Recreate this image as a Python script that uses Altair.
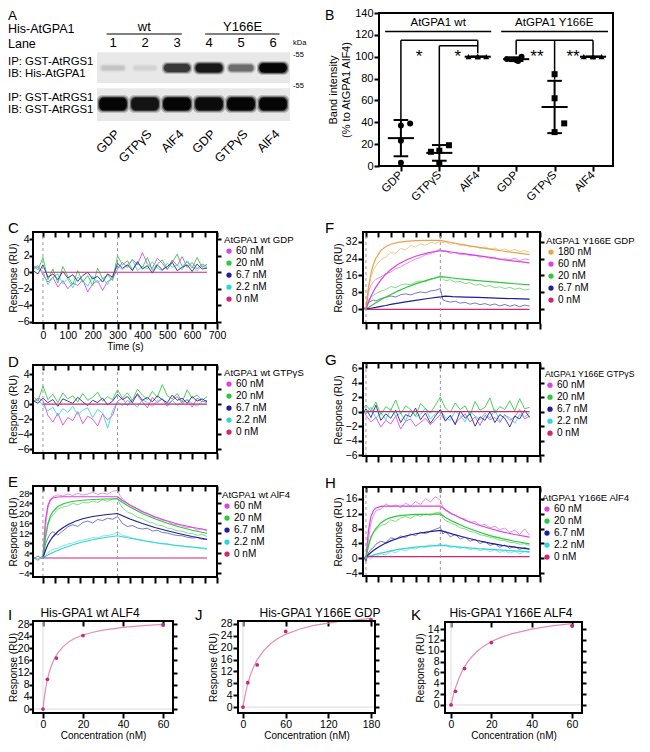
import altair as alt
import pandas as pd

W, H = 634, 736
M = 8
FONT = "Liberation Sans"

# ======================= DATA =======================
# ---- Panel A (relative band intensities read from the blot)
A_LANES = [1, 2, 3, 4, 5, 6]
A_LANE_NAMES = ["1", "2", "3", "4", "5", "6"]
A_TREAT = ["GDP", "GTPγS", "AlF4", "GDP", "GTPγS", "AlF4"]
A_HIS_BAND = [0.12, 0.06, 0.75, 0.92, 0.50, 1.00]
A_GST_BAND = [1.00, 0.95, 1.00, 0.98, 1.00, 1.00]

# ---- Panel B
B_CATS = ["GDP", "GTPγS", "AlF4", "GDP", "GTPγS", "AlF4"]
B_MARKER = ["circle", "square", "triangle-up", "circle", "square", "triangle-up"]
B_GROUP = [0, 0, 0, 0, 1, 1, 1, 1, 2, 2, 2, 2, 3, 3, 3, 3, 4, 4, 4, 4, 5, 5, 5, 5]
B_VALUE = [37, 39, 23, 3, 13, 14, 19, 2, 100, 100, 100, 100,
           98, 97, 100, 96, 84, 62, 31, 39, 100, 100, 100, 100]
B_GROUP_LABELS = ["AtGPA1 wt", "AtGPA1 Y166E"]
B_STARS = ["*", "*", "**", "**"]

# ---- SPR sensorgrams
CONC = ["180 nM", "60 nM", "20 nM", "6.7 nM", "2.2 nM", "0 nM"]
INJECT_T = [0, 300]
T_ZERO = [0, 660]

T_NOISE = [-40, -20, 0, 20, 40, 60, 80, 100, 120, 140, 160, 180, 200, 220, 240, 260, 280, 300,
           320, 340, 360, 380, 400, 420, 440, 460, 480, 500, 520, 540, 560, 580, 600, 620, 640, 660]
T_NOISE_F = [-10, 0, 20, 40, 60, 80, 100, 120, 140, 160, 180, 200, 220, 240, 260, 280, 300,
             320, 340, 360, 380, 400, 420, 440, 460, 480, 500, 520, 540, 560, 580, 600, 620, 640, 660]
T_KIN = [-40, -20, -5, 0, 10, 20, 30, 40, 60, 80, 100, 120, 140, 160, 180, 200, 220, 240, 260, 280, 300,
         310, 320, 340, 360, 380, 400, 420, 440, 460, 480, 500, 520, 540, 560, 580, 600, 620, 640, 660]
T_KIN_F = [-10, -5, 0, 10, 20, 30, 40, 60, 80, 100, 120, 140, 160, 180, 200, 220, 240, 260, 280, 300,
           310, 320, 340, 360, 380, 400, 420, 440, 460, 480, 500, 520, 540, 560, 580, 600, 620, 640, 660]
T_FIT = [0, 10, 20, 30, 40, 60, 80, 100, 130, 160, 200, 250, 300, 320, 350, 400, 450, 500, 550, 600, 660]

# C: AtGPA1 wt GDP
C_60 = [0.5, 0.8, -0.3, -1.2, -0.6, -1.8, -1.0, -2.0, -1.3, -1.6, -0.9, -2.4, -1.4, -1.0, -2.2, -1.1, -0.8, 0.4,
        1.2, 0.6, 1.6, 0.9, 2.4, 1.0, 0.5, 1.7, 1.1, 0.3, 1.5, 0.8, 1.9, 0.6, 1.2, 0.4, 1.0, 0.7]
C_20 = [0.9, 0.3, 1.8, -0.9, 0.4, -1.3, 0.7, -0.5, -1.5, 0.2, -1.2, -0.4, -1.6, 0.5, -0.8, -0.3, -1.0, 2.0,
        0.9, 1.4, 0.3, 1.1, 0.6, 1.8, 0.2, 1.0, 1.5, 0.4, 1.2, 2.2, 0.7, 1.3, 0.5, 1.8, 0.6, 1.0]
C_67 = [0.2, -0.2, 0.9, -0.6, -0.2, -0.9, 0.1, -0.7, -0.3, -1.1, -0.4, 0.0, -0.8, -0.5, -1.2, -0.2, -0.6, 1.1,
        0.5, 0.9, 0.2, 1.3, 0.4, 0.8, -0.1, 0.9, 0.3, 0.7, 1.2, 0.2, 0.6, 0.9, 0.1, 1.0, 0.4, 0.5]
C_22 = [0.4, 0.6, 0.1, -1.5, -0.6, -0.2, -1.4, -0.8, -1.9, -0.6, -1.0, -1.7, -0.5, -1.3, -0.7, -1.5, -0.4, 0.8,
        0.3, 0.9, 1.5, 0.2, 0.7, 0.4, 1.3, 0.5, 0.2, 1.1, 0.6, 0.9, 0.3, 1.4, 0.7, 0.2, 0.8, 0.5]
C_0 = [0.0, 0.0]

# D: AtGPA1 wt GTPgS
D_60 = [0.3, 0.8, 0.5, -1.5, -2.4, -1.2, -2.8, -1.8, -2.2, -1.0, -2.6, -1.6, -2.0, -2.9, -1.3, -2.1, -1.5, 0.4,
        0.8, -0.2, 0.6, 1.2, 0.3, -0.5, 0.9, 0.2, 0.7, -0.3, 0.5, 1.0, 0.1, 0.6, -0.4, 0.8, 0.3, 0.5]
D_20 = [1.0, 0.4, 2.4, 0.6, 1.3, 0.2, 1.5, 0.7, 1.1, 0.3, 1.4, 0.5, 0.9, 1.6, 0.4, 1.0, 0.6, 1.9,
        0.8, 1.5, 0.5, 2.0, 1.2, 0.6, 1.7, 0.9, 2.6, 1.1, 0.7, 1.4, 0.3, 1.9, 0.8, 1.2, 0.5, 1.0]
D_67 = [0.5, 0.1, 0.8, 0.2, 0.6, -0.3, 0.7, 0.4, 0.1, 0.9, 0.3, -0.2, 0.5, 0.2, 0.8, -0.1, 0.4, 1.3,
        0.6, 1.0, 0.2, 1.4, 0.5, 0.9, 0.3, 1.1, 0.6, 0.2, 1.2, 0.5, 0.8, 0.1, 1.0, 0.4, 0.7, 0.3]
D_22 = [0.2, 0.6, -0.2, -0.9, -0.4, -1.6, -0.6, -1.1, -0.3, -1.4, -0.8, -0.5, -1.8, -0.7, -1.2, -3.2, -0.9, 0.3,
        -0.2, 0.5, 0.1, -0.4, 0.6, 0.2, -0.3, 0.4, 0.7, 0.0, 0.5, -0.2, 0.3, 0.6, 0.1, -0.3, 0.4, 0.2]
D_0 = [0.0, 0.0]

# E: AtGPA1 wt AlF4
E_60 = [2.5, 1.0, 2.2, 2.0, 14.0, 22.0, 25.5, 26.5, 27.3, 26.8, 27.6, 27.0, 27.9, 27.2, 27.6, 28.3, 27.4, 28.0,
        27.5, 28.7, 29.0, 27.0, 25.6, 23.8, 22.5, 21.6, 20.4, 19.8, 18.6, 18.0, 17.1, 16.8, 15.6, 15.3, 14.8,
        14.1, 14.3, 13.2, 13.6, 12.8]
E_20 = [2.3, 1.5, 2.6, 2.0, 9.5, 15.0, 18.0, 19.2, 21.5, 22.4, 22.8, 23.9, 23.2, 24.3, 24.0, 24.8, 24.2, 25.3,
        24.7, 25.6, 25.9, 23.5, 22.0, 20.4, 19.6, 18.3, 17.7, 16.6, 16.1, 15.2, 14.9, 14.0, 13.6, 12.9, 12.7,
        12.0, 11.8, 11.1, 11.4, 10.6]
E_67 = [1.5, 2.8, 1.8, 2.0, 7.5, 10.0, 11.8, 12.5, 11.2, 12.8, 14.5, 15.3, 14.6, 16.2, 16.8, 16.0, 17.4, 17.0,
        17.9, 17.5, 18.6, 17.2, 15.8, 14.6, 15.0, 14.0, 13.6, 13.9, 12.8, 13.1, 12.2, 12.0, 11.4, 11.0, 10.9,
        10.3, 10.0, 10.2, 9.5, 9.4]
E_22 = [2.0, 1.2, 2.5, 2.0, 3.0, 4.2, 4.8, 5.5, 6.0, 6.9, 7.6, 8.0, 8.8, 9.1, 9.6, 10.2, 10.0, 10.8, 11.0, 11.4,
        12.5, 11.8, 11.0, 10.6, 10.0, 9.5, 9.2, 8.6, 8.4, 7.9, 7.6, 7.8, 7.1, 6.8, 6.9, 6.3, 6.5, 6.0, 5.7, 5.5]
E_0 = [2.0, 2.0]
E_60F = [2.0, 17.0, 23.0, 25.2, 26.0, 26.4, 26.5, 26.5, 26.5, 26.5, 26.5, 26.5, 26.5, 25.0, 23.2, 20.6, 18.5,
         16.8, 15.4, 14.3, 13.2]
E_20F = [2.0, 10.5, 15.8, 18.8, 20.6, 22.6, 23.6, 24.2, 24.8, 25.1, 25.4, 25.6, 25.7, 24.2, 22.4, 19.8, 17.7,
         15.9, 14.4, 13.1, 11.9]
E_67F = [2.0, 5.0, 7.4, 9.1, 10.5, 12.6, 14.1, 15.3, 16.7, 17.7, 18.6, 19.3, 19.8, 18.9, 17.6, 15.8, 14.2,
         12.9, 11.7, 10.6, 9.5]
E_22F = [2.0, 2.6, 3.2, 3.7, 4.2, 5.1, 5.9, 6.6, 7.6, 8.4, 9.3, 10.2, 10.9, 10.5, 9.9, 9.0, 8.2, 7.5, 6.9,
         6.4, 5.8]

# F: AtGPA1 Y166E GDP
F_180 = [0.8, 0.2, 0.5, 10.0, 15.0, 18.5, 20.5, 23.5, 24.8, 27.0, 26.5, 28.8, 28.0, 30.2, 29.5, 31.0, 30.3,
         31.6, 31.2, 32.4, 31.5, 32.0, 30.8, 31.3, 30.2, 30.6, 29.5, 29.9, 28.8, 29.6, 28.5, 29.0, 28.0, 28.6,
         27.6, 28.4, 27.3, 27.8, 27.0]
F_60 = [0.5, 1.0, 0.3, 8.0, 11.5, 13.0, 14.2, 15.3, 16.8, 17.6, 19.2, 20.1, 21.5, 22.6, 23.8, 24.6, 25.8, 26.3,
        27.4, 28.6, 27.2, 27.6, 26.5, 26.9, 25.8, 26.2, 25.3, 25.7, 24.6, 25.0, 24.1, 24.5, 23.6, 24.0, 23.4,
        24.2, 23.0, 23.8, 23.3]
F_20 = [0.3, -0.3, 0.4, 4.5, 5.8, 6.5, 7.4, 8.6, 9.3, 10.8, 10.2, 11.5, 12.0, 11.6, 12.9, 13.4, 13.0, 14.2,
        14.8, 16.0, 14.6, 13.5, 14.0, 12.8, 13.2, 12.1, 12.6, 11.4, 11.9, 10.8, 11.3, 10.2, 10.7, 9.8, 10.4,
        9.5, 10.0, 9.1, 9.6]
F_67 = [0.8, 0.2, 0.4, 3.2, 3.8, 4.4, 3.9, 5.1, 5.6, 6.3, 5.8, 6.9, 7.3, 6.8, 7.6, 8.2, 7.8, 8.7, 9.0, 9.8,
        4.5, 4.0, 3.4, 3.8, 2.9, 3.3, 2.4, 3.0, 2.2, 2.7, 1.9, 2.5, 1.6, 2.3, 1.4, 2.1, 1.2, 2.0, 1.5]
F_0 = [0.0, 0.0]
F_180F = [0.0, 10.5, 17.0, 21.2, 24.2, 27.8, 29.7, 30.8, 31.7, 32.2, 32.5, 32.6, 32.6, 32.2, 31.5, 30.4, 29.4,
          28.5, 27.6, 26.8, 25.9]
F_60F = [0.0, 3.2, 6.0, 8.4, 10.5, 13.9, 16.6, 18.8, 21.3, 23.2, 25.1, 26.7, 27.8, 27.5, 27.0, 26.2, 25.4,
         24.6, 23.5, 22.8, 22.0]
F_20F = [0.0, 0.8, 1.6, 2.4, 3.1, 4.5, 5.8, 7.0, 8.7, 10.2, 12.0, 13.9, 15.5, 15.2, 14.8, 14.2, 13.6, 13.1,
         12.6, 12.1, 11.6]
F_67F = [0.0, 0.3, 0.5, 0.7, 0.9, 1.4, 1.8, 2.3, 2.9, 3.5, 4.2, 5.1, 5.9, 6.2, 6.0, 5.8, 5.6, 5.4, 5.2, 5.0, 4.8]

# G: AtGPA1 Y166E GTPgS
G_60 = [0.3, -0.5, -1.4, -0.8, -2.1, -1.2, -1.7, -0.6, -2.4, -1.3, -1.0, -2.0, -1.5, -0.9, -1.8, -1.1, -0.4,
        -1.2, -0.6, -1.6, -0.9, -0.3, -1.4, -0.7, -1.9, -0.5, -1.1, -0.8, -1.5, -0.4, -1.2, -0.7, 0.3, -1.0, -0.6]
G_20 = [0.5, 0.9, 0.1, 1.3, -0.4, 0.7, 0.2, 1.6, -0.3, 0.8, 0.3, -0.6, 1.1, 0.4, -0.2, 0.9, 2.0, 0.5, -0.1,
        1.2, 0.3, 0.8, -0.5, 1.4, 0.2, 0.6, 1.9, -0.2, 0.7, 0.3, 1.5, 0.1, 1.8, 0.4, 0.6]
G_67 = [-0.2, 0.4, -0.8, 0.9, -1.2, -0.3, -0.9, 0.2, -1.5, -0.4, -0.7, 0.5, -1.1, -0.2, -1.6, -0.6, 0.3, -1.3,
        -0.5, -1.8, 0.1, -0.9, -0.3, -2.0, -0.7, -1.2, 0.0, -1.5, -0.4, -0.9, -2.1, -0.6, -1.0, 0.2, -0.8]
G_22 = [0.1, -0.3, 0.6, -0.9, -0.1, -1.1, 0.4, -0.6, -0.2, -1.3, 0.3, -0.7, -0.4, 0.5, -1.0, -0.3, 0.2, -0.8,
        -1.2, 0.1, -0.5, -1.4, 0.0, -0.6, -1.1, -0.2, -0.9, 0.3, -1.3, -0.5, -0.8, -1.6, -0.4, -0.7, -0.2]
G_0 = [0.0, 0.0]

# H: AtGPA1 Y166E AlF4
H_60 = [-0.3, 0.5, -0.6, 5.0, 9.5, 11.5, 12.8, 13.2, 14.6, 13.8, 14.3, 13.6, 14.8, 14.0, 15.2, 14.4, 16.0,
        15.1, 16.5, 15.6, 13.8, 12.9, 12.0, 11.6, 10.8, 10.5, 9.6, 9.9, 8.8, 9.1, 8.2, 8.6, 7.7, 8.1, 7.0, 7.6,
        6.4, 7.9, 6.2]
H_20 = [0.2, -0.4, 0.3, 3.5, 5.8, 6.9, 7.5, 8.8, 9.2, 10.3, 9.9, 10.8, 11.2, 10.7, 11.6, 11.3, 11.9, 11.5,
        12.2, 12.4, 10.8, 10.2, 9.5, 9.0, 8.2, 7.9, 7.2, 7.0, 6.3, 6.1, 5.6, 5.4, 4.9, 4.8, 4.3, 4.2, 3.8, 3.9, 3.4]
H_67 = [-0.5, 0.2, -0.8, 1.5, 2.4, 2.9, 3.8, 4.6, 4.2, 5.5, 5.1, 6.0, 5.6, 6.5, 6.1, 7.0, 6.6, 7.3, 7.8, 8.3,
        6.5, 7.2, 5.8, 6.4, 5.2, 5.7, 4.6, 5.1, 4.0, 4.5, 3.5, 3.9, 3.0, 3.6, 2.7, 3.2, 2.4, 2.9, 2.5]
H_22 = [0.0, -0.5, 0.2, 0.4, -0.2, 0.8, 0.5, 1.3, 0.9, 1.9, 1.5, 2.4, 2.0, 2.8, 2.5, 3.2, 2.9, 3.6, 3.3, 4.0,
        3.4, 3.8, 2.9, 3.3, 2.6, 3.1, 2.3, 2.8, 2.0, 2.6, 1.8, 2.4, 1.6, 2.1, 1.4, 1.9, 1.2, 1.8, 1.5]
H_0 = [0.5, 0.5]
H_60F = [0.3, 7.5, 11.2, 12.8, 13.5, 13.9, 14.0, 14.0, 14.0, 14.0, 14.0, 14.0, 14.0, 13.0, 11.8, 10.2, 9.0,
         8.0, 7.1, 6.4, 5.7]
H_20F = [0.3, 3.4, 5.6, 7.0, 8.0, 9.5, 10.4, 10.9, 11.4, 11.6, 11.8, 11.8, 11.9, 11.0, 9.9, 8.4, 7.2, 6.1,
         5.3, 4.6, 3.9]
H_67F = [0.3, 1.0, 1.6, 2.1, 2.6, 3.4, 4.1, 4.7, 5.4, 6.0, 6.6, 7.1, 7.5, 7.1, 6.5, 5.6, 4.8, 4.1, 3.5, 3.0, 2.5]
H_22F = [0.3, 0.5, 0.7, 0.9, 1.1, 1.4, 1.7, 2.0, 2.4, 2.7, 3.0, 3.3, 3.5, 3.4, 3.2, 2.9, 2.6, 2.4, 2.2, 2.0, 1.8]

# ---- I, J, K: steady-state binding
I_CONC = [0, 2.2, 6.7, 20, 60]
I_RESP = [0.0, 9.8, 16.8, 24.2, 27.7]
I_FIT_C = [0, 0.5, 1, 2, 3, 4, 5, 6, 8, 10, 13, 16, 20, 25, 30, 40, 50, 60]
I_FIT_R = [0.0, 2.9, 5.4, 9.1, 11.8, 14.0, 15.6, 17.0, 19.0, 20.5, 22.2, 23.3, 24.4, 25.3, 26.0, 26.9, 27.5, 27.9]
J_CONC = [0, 6.7, 20, 60, 180]
J_RESP = [0.0, 8.2, 14.2, 25.5, 29.5]
J_FIT_C = [0, 2, 5, 10, 15, 20, 30, 40, 50, 60, 80, 100, 120, 140, 160, 180]
J_FIT_R = [0.0, 2.8, 6.2, 10.5, 13.6, 16.0, 19.3, 21.6, 23.3, 24.5, 26.3, 27.5, 28.3, 29.0, 29.4, 29.9]
K_CONC = [0, 2.2, 6.7, 20, 60]
K_RESP = [0.0, 2.5, 6.7, 11.5, 14.6]
K_FIT_C = [0, 1, 2, 3, 4, 6, 8, 10, 13, 16, 20, 25, 30, 40, 50, 60]
K_FIT_R = [0.0, 1.6, 2.9, 4.0, 5.0, 6.6, 7.8, 8.75, 9.9, 10.8, 11.7, 12.5, 13.1, 14.0, 14.6, 15.0]

# ======================= LAYOUT / STYLE =======================
COL = {"180 nM": "#e6a54a", "60 nM": "#dd44dd", "20 nM": "#2ec83c", "6.7 nM": "#1f1f9a",
       "2.2 nM": "#2fd6d6", "0 nM": "#d4246e"}
# panel geometry in reference pixels: x=(left,right), y=(bottom,top)
L = {
    "B": dict(x=(379, 613), y=(166, 13), xd=(-0.57, 5.52), yd=(0, 140)),
    "C": dict(x=(33, 217), y=(323, 232), xd=(-40, 700), yd=(-6.16, 4.89), leg=(224, 235)),
    "D": dict(x=(33, 217), y=(453, 365), xd=(-40, 700), yd=(-6.5, 5.2), leg=(224, 368)),
    "E": dict(x=(33, 217), y=(577, 486), xd=(-40, 700), yd=(-5.6, 30.8), leg=(222, 490)),
    "F": dict(x=(363, 540), y=(323, 232), xd=(-12, 702), yd=(-6.5, 36.6), leg=(546, 236)),
    "G": dict(x=(363, 540), y=(456, 363), xd=(-12, 702), yd=(-6.1, 6.7), leg=(545, 370)),
    "H": dict(x=(363, 540), y=(576, 487), xd=(-12, 702), yd=(-4.7, 19.1), leg=(542, 493)),
    "I": dict(x=(33, 173), y=(713, 621), xd=(-5, 65), yd=(-1.3, 29)),
    "J": dict(x=(238, 375), y=(713, 621), xd=(-7, 185.6), yd=(-2, 29)),
    "K": dict(x=(445, 582), y=(713, 622), xd=(-3, 65), yd=(-1.5, 15.3)),
}
T_TICKS = [0, 50, 100, 150, 200, 250, 300, 350, 400, 450, 500, 550, 600, 650, 700]
ONE = pd.DataFrame({"k": [0]})
FS = 10.5
TFS = 10


def sx(p):
    return alt.Scale(domain=list(p["xd"]), range=[p["x"][0] - M, p["x"][1] - M], nice=False, zero=False)


def sy(p):
    return alt.Scale(domain=list(p["yd"]), range=[p["y"][0] - M, p["y"][1] - M], nice=False, zero=False)


def ax_left(p, values, title="Response (RU)", tick=5, size=FS, edge_title=False):
    kw = dict(orient="left", offset=-(p["x"][0] - M), values=values, domain=False, tickSize=tick,
              tickWidth=2, tickColor="black", labelFontSize=size, labelPadding=1, labelOverlap=False,
              labelFlush=False, title=title, titleFontSize=TFS, titleFontWeight="normal",
              titlePadding=2, grid=False)
    if edge_title:
        # keep the rotated title inside the drawable area at the figure's left edge
        kw.update(tickSize=4, labelPadding=0, titleAngle=270, titleBaseline="bottom",
                  titleX=10.5 - (p["x"][0] - M))
    return alt.Axis(**kw)


def ax_bottom(p, values, labels=False, label_expr=None, title=None, tick=6, title_pad=0):
    kw = dict(orient="bottom", offset=(p["y"][0] - M) - H, values=values, domain=False, tickSize=tick,
              tickWidth=2, tickColor="black", labels=labels, labelFontSize=FS, labelPadding=1,
              labelOverlap=False, labelFlush=False, grid=False, title=title, titleFontSize=TFS,
              titleFontWeight="normal", titlePadding=title_pad)
    if label_expr:
        kw["labelExpr"] = label_expr
    return alt.Axis(**kw)


def ax_top(p, values, tick=5):
    return alt.Axis(orient="top", offset=-((p["y"][1] - M) + tick), values=values, domain=False,
                    tickSize=tick, tickWidth=2, tickColor="black", labels=False, grid=False, title=None)


def ax_right(p, values, tick=4):
    return alt.Axis(orient="right", offset=(p["x"][1] - M) - W, values=values, domain=False,
                    tickSize=tick, tickWidth=2, tickColor="black", labels=False, grid=False, title=None)


def frame(p, xs, ys, xaxis=None, yaxis=None):
    return alt.Chart(ONE).mark_rect(fillOpacity=0, stroke="black", strokeWidth=2).encode(
        x=alt.XDatum(p["xd"][0], type="quantitative", scale=xs, axis=xaxis),
        x2=alt.X2Datum(p["xd"][1]),
        y=alt.YDatum(p["yd"][0], type="quantitative", scale=ys, axis=yaxis),
        y2=alt.Y2Datum(p["yd"][1]))


def long_df(times, series):
    rows = []
    for c, vals in series.items():
        for t, v in zip(times, vals):
            rows.append({"t": t, "v": v, "c": c})
    return pd.DataFrame(rows)


def spr_panel(key, times, series, zero_vals, yvals, legend_title, order,
              fits=None, xlabels=False, trace_opacity=0.85, ylab_size=FS, edge_title=False,
              leg_title_size=9.6):
    p = L[key]
    xs, ys = sx(p), sy(p)
    cs = alt.Scale(domain=order, range=[COL[c] for c in order])
    leg = alt.Legend(orient="none", legendX=p["leg"][0] - M, legendY=p["leg"][1] - M, title=legend_title,
                     titleFontSize=leg_title_size, titleFontWeight="normal", titleColor="black",
                     titlePadding=1.5, titleLimit=300, labelFontSize=10, labelColor="black",
                     symbolType="circle", symbolSize=28, symbolStrokeWidth=0, rowPadding=2, labelOffset=2,
                     padding=0)
    layers = [alt.Chart(pd.DataFrame({"c": order})).mark_circle(size=0, opacity=1).encode(
        color=alt.Color("c:N", scale=cs, legend=leg))]
    if xlabels:
        bottom = ax_bottom(p, T_TICKS, labels=True, label_expr="datum.value % 100 == 0 ? datum.label : ''",
                           title="Time (s)", title_pad=1)
    else:
        bottom = ax_bottom(p, T_TICKS)
    tr = long_df(times, series)
    layers.append(alt.Chart(tr).mark_line(strokeWidth=1, opacity=trace_opacity).encode(
        x=alt.X("t:Q", scale=xs, axis=bottom),
        y=alt.Y("v:Q", scale=ys, axis=ax_left(p, yvals, size=ylab_size, edge_title=edge_title)),
        color=alt.Color("c:N", scale=cs, legend=None)))
    if fits is not None:
        fd = long_df(T_FIT, fits)
        layers.append(alt.Chart(fd).mark_line(strokeWidth=1.2).encode(
            x=alt.X("t:Q", scale=xs, axis=None), y=alt.Y("v:Q", scale=ys, axis=None),
            color=alt.Color("c:N", scale=cs, legend=None)))
    zd = long_df(T_ZERO, {"0 nM": zero_vals})
    layers.append(alt.Chart(zd).mark_line(strokeWidth=1.2).encode(
        x=alt.X("t:Q", scale=xs, axis=None), y=alt.Y("v:Q", scale=ys, axis=None),
        color=alt.Color("c:N", scale=cs, legend=None)))
    layers.append(alt.Chart(pd.DataFrame({"t": INJECT_T})).mark_rule(
        color="#9a9a9a", strokeDash=[3, 3], strokeWidth=1).encode(
        x=alt.X("t:Q", scale=xs, axis=None),
        y=alt.YDatum(p["yd"][0], type="quantitative", scale=ys, axis=None),
        y2=alt.Y2Datum(p["yd"][1])))
    layers.append(frame(p, xs, ys, ax_top(p, T_TICKS), ax_right(p, yvals)))
    return alt.layer(*layers).resolve_axis(x="independent", y="independent")


def kd_panel(key, conc, resp, fc, fr, xvals, yvals, edge_title=False):
    p = L[key]
    xs, ys = sx(p), sy(p)
    fit = pd.DataFrame({"c": fc, "r": fr})
    pts = pd.DataFrame({"c": conc, "r": resp})
    base_h = alt.Chart(ONE).mark_rule(color="#e2e2e2", strokeWidth=1.2).encode(
        x=alt.XDatum(p["xd"][0], type="quantitative", scale=xs, axis=None), x2=alt.X2Datum(p["xd"][1]),
        y=alt.YDatum(0, type="quantitative", scale=ys, axis=None))
    base_v = alt.Chart(ONE).mark_rule(color="#e2e2e2", strokeWidth=1.2).encode(
        x=alt.XDatum(0, type="quantitative", scale=xs, axis=None),
        y=alt.YDatum(0, type="quantitative", scale=ys, axis=None), y2=alt.Y2Datum(p["yd"][1]))
    line = alt.Chart(fit).mark_line(color="#e58db5", strokeWidth=1.2).encode(
        x=alt.X("c:Q", scale=xs, axis=ax_bottom(p, xvals, labels=True, title="Concentration (nM)",
                                                  tick=5, title_pad=1)),
        y=alt.Y("r:Q", scale=ys, axis=ax_left(p, yvals, size=10.5, edge_title=edge_title)))
    dots = alt.Chart(pts).mark_circle(color="#c42a78", size=14, opacity=1).encode(
        x=alt.X("c:Q", scale=xs, axis=None), y=alt.Y("r:Q", scale=ys, axis=None))
    return alt.layer(base_h, base_v, line, dots, frame(p, xs, ys, ax_top(p, xvals), ax_right(p, yvals))
                     ).resolve_axis(x="independent", y="independent")


def txt(text, x, y, size=FS, align="left", baseline="middle", angle=None):
    kw = dict(align=align, baseline=baseline, fontSize=size, color="black", font=FONT)
    if angle is not None:
        kw["angle"] = angle
    return alt.Chart(pd.DataFrame({"s": [text]})).mark_text(**kw).encode(
        x=alt.value(x), y=alt.value(y), text="s:N")


# ======================= PANEL A =======================
a_xs = alt.Scale(domain=[0.5, 6.53], range=[97 - M, 290 - M], nice=False, zero=False)
a_ys = alt.Scale(domain=[0, 3], range=[32 - M, 140 - M], nice=False, zero=False)
bands = pd.DataFrame({"lane": A_LANES + A_LANES, "row": [1] * 6 + [2] * 6, "I": A_HIS_BAND + A_GST_BAND})
blot_bg = alt.Chart(pd.DataFrame({"row": [1, 2]})).transform_calculate(
    y0="datum.row - 0.44", y1="datum.row == 1 ? datum.row + 0.42 : datum.row + 0.47"
).mark_rect(color="#e8e8e8").encode(
    x=alt.XDatum(0.5, type="quantitative", scale=a_xs, axis=None), x2=alt.X2Datum(6.53),
    y=alt.Y("y0:Q", scale=a_ys, axis=None), y2="y1:Q")
a_layers = [blot_bg]
for gx, gy, op in [(0.07, 0.06, 0.25), (0.035, 0.03, 0.5), (0.0, 0.0, 1.0)]:
    a_layers.append(alt.Chart(bands).transform_calculate(
        hh="datum.row == 1 ? 0.045 + 0.085 * datum.I : 0.18",
        hw="datum.row == 1 ? 0.34 + 0.09 * datum.I : 0.43",
    ).transform_calculate(
        x0=f"datum.lane - datum.hw - {gx}", x1=f"datum.lane + datum.hw + {gx}",
        y0=f"datum.row - datum.hh - {gy}", y1=f"datum.row + datum.hh + {gy}",
    ).mark_rect(cornerRadius=5, opacity=op).encode(
        x=alt.X("x0:Q", scale=a_xs, axis=None), x2="x1:Q",
        y=alt.Y("y0:Q", scale=a_ys, axis=None), y2="y1:Q",
        color=alt.Color("I:Q", scale=alt.Scale(domain=[0, 1], range=["#e2e2e2", "#050505"]), legend=None)))
lane_df = pd.DataFrame({"lane": A_LANES, "n": A_LANE_NAMES, "tr": A_TREAT})
a_layers.append(alt.Chart(lane_df).mark_text(fontSize=13, font=FONT, color="black").encode(
    x=alt.X("lane:Q", scale=a_xs, axis=None), y=alt.value(35), text="n:N"))
a_layers.append(alt.Chart(lane_df).transform_calculate(lx="datum.lane + 0.14").mark_text(
    fontSize=12.5, font=FONT, color="black", angle=315, align="right", baseline="middle").encode(
    x=alt.X("lx:Q", scale=a_xs, axis=None), y=alt.value(124), text="tr:N"))
a_layers.append(alt.Chart(pd.DataFrame({"g": ["wt", "Y166E"], "x": [1.98, 5.05]})).mark_text(
    fontSize=13, font=FONT, color="black").encode(
    x=alt.X("x:Q", scale=a_xs, axis=None), y=alt.value(19), text="g:N"))
a_layers.append(alt.Chart(pd.DataFrame({"x0": [0.8, 3.88], "x1": [3.15, 6.2]})).mark_rule(
    color="black", strokeWidth=1.2).encode(
    x=alt.X("x0:Q", scale=a_xs, axis=None), x2="x1:Q", y=alt.value(26)))
panel_a = alt.layer(*a_layers)

# ======================= PANEL B =======================
pB = L["B"]
b_xs, b_ys = sx(pB), sy(pB)
B_XJITTER = [0, 0.24, 0, 0, -0.22, 0, 0.25, 0, -0.24, 0, 0.22, 0,
             -0.24, 0, 0.14, 0.05, 0, 0, 0, 0.25, -0.24, 0, 0.22, 0]
bdf = pd.DataFrame({"g": B_GROUP, "v": B_VALUE, "j": B_XJITTER, "m": [B_MARKER[g] for g in B_GROUP]})
b_label_expr = "[" + ",".join("'" + c + "'" for c in B_CATS) + "][datum.value]"
b_bottom = alt.Axis(orient="bottom", offset=(pB["y"][0] - M) - H, values=[0, 1, 2, 3, 4, 5], domain=False,
                    tickSize=5, tickWidth=2, tickColor="black", labelExpr=b_label_expr, labelAngle=-45,
                    labelAlign="right", labelBaseline="middle", labelFontSize=11.5, labelPadding=2,
                    labelOverlap=False, labelFlush=False, grid=False, title=None)
b_left = alt.Axis(orient="left", offset=-(pB["x"][0] - M), values=[0, 20, 40, 60, 80, 100, 120, 140],
                  domain=False, tickSize=5, tickWidth=2, tickColor="black", labelFontSize=11,
                  labelPadding=1, labelOverlap=False, labelFlush=False, grid=False,
                  title=["Band intensity", "(% to AtGPA1 AlF4)"], titleFontSize=11,
                  titleFontWeight="normal", titlePadding=3)
b_points = alt.Chart(bdf).transform_calculate(xp="datum.g + datum.j").mark_point(
    filled=True, size=36, opacity=1, color="black").encode(
    x=alt.X("xp:Q", scale=b_xs, axis=b_bottom), y=alt.Y("v:Q", scale=b_ys, axis=b_left),
    shape=alt.Shape("m:N", scale=alt.Scale(domain=["circle", "square", "triangle-up"],
                                           range=["circle", "square", "triangle-up"]), legend=None))
b_stats = alt.Chart(bdf).transform_aggregate(mu="mean(v)", sd="stdev(v)", groupby=["g"]).transform_calculate(
    lo="datum.mu - datum.sd", hi="datum.mu + datum.sd",
    ml="datum.g - 0.34", mr="datum.g + 0.34", cl="datum.g - 0.19", cr="datum.g + 0.19")
b_layers = [
    b_points,
    b_stats.mark_rule(color="black", strokeWidth=2).encode(
        x=alt.X("g:Q", scale=b_xs, axis=None), y=alt.Y("lo:Q", scale=b_ys, axis=None), y2="hi:Q"),
    b_stats.mark_rule(color="black", strokeWidth=2).encode(
        x=alt.X("ml:Q", scale=b_xs, axis=None), x2="mr:Q", y=alt.Y("mu:Q", scale=b_ys, axis=None)),
    b_stats.mark_rule(color="black", strokeWidth=2).encode(
        x=alt.X("cl:Q", scale=b_xs, axis=None), x2="cr:Q", y=alt.Y("lo:Q", scale=b_ys, axis=None)),
    b_stats.mark_rule(color="black", strokeWidth=2).encode(
        x=alt.X("cl:Q", scale=b_xs, axis=None), x2="cr:Q", y=alt.Y("hi:Q", scale=b_ys, axis=None)),
]
B_BRACKETS = pd.DataFrame({
    "x1": [0, 0, 2, 1, 1, 3, 3, 4, 5, -0.41, 2.61],
    "x2": [0, 2, 2, 1, 2, 5, 3, 4, 5, 2.35, 5.39],
    "y1": [43, 115, 115, 20, 110, 115, 115, 115, 115, 123, 123],
    "y2": [115, 115, 103, 110, 110, 115, 102, 79, 102, 123, 123]})
b_layers.append(alt.Chart(B_BRACKETS).mark_rule(color="black", strokeWidth=1.5).encode(
    x=alt.X("x1:Q", scale=b_xs, axis=None), x2="x2:Q",
    y=alt.Y("y1:Q", scale=b_ys, axis=None), y2="y2:Q"))
b_layers.append(alt.Chart(pd.DataFrame({"s": B_GROUP_LABELS, "x": [0.97, 3.99]})).mark_text(
    fontSize=11.5, font=FONT, color="black").encode(
    x=alt.X("x:Q", scale=b_xs, axis=None), y=alt.YDatum(131, type="quantitative", scale=b_ys, axis=None),
    text="s:N"))
b_layers.append(alt.Chart(pd.DataFrame({"s": B_STARS, "x": [0.47, 1.48, 3.54, 4.48]})).mark_text(
    fontSize=17, font=FONT, color="black", baseline="middle").encode(
    x=alt.X("x:Q", scale=b_xs, axis=None), y=alt.YDatum(100, type="quantitative", scale=b_ys, axis=None),
    text="s:N"))
b_layers.append(frame(pB, b_xs, b_ys))
panel_b = alt.layer(*b_layers).resolve_axis(x="independent", y="independent")

# ======================= PANELS C-H =======================
ORD = ["60 nM", "20 nM", "6.7 nM", "2.2 nM", "0 nM"]
ORD_F = ["180 nM", "60 nM", "20 nM", "6.7 nM", "0 nM"]
panel_c = spr_panel("C", T_NOISE, {"60 nM": C_60, "2.2 nM": C_22, "20 nM": C_20, "6.7 nM": C_67}, C_0,
                    [-6, -4, -2, 0, 2, 4], "AtGPA1 wt GDP", ORD, xlabels=True, edge_title=True)
panel_d = spr_panel("D", T_NOISE, {"60 nM": D_60, "2.2 nM": D_22, "20 nM": D_20, "6.7 nM": D_67}, D_0,
                    [-6, -4, -2, 0, 2, 4], "AtGPA1 wt GTPγS", ORD, edge_title=True)
panel_e = spr_panel("E", T_KIN, {"60 nM": E_60, "20 nM": E_20, "6.7 nM": E_67, "2.2 nM": E_22}, E_0,
                    [-4, 0, 4, 8, 12, 16, 20, 24, 28], "AtGPA1 wt AlF4", ORD,
                    fits={"60 nM": E_60F, "20 nM": E_20F, "6.7 nM": E_67F, "2.2 nM": E_22F},
                    trace_opacity=0.6, ylab_size=9.5, edge_title=True)
panel_f = spr_panel("F", T_KIN_F, {"180 nM": F_180, "60 nM": F_60, "20 nM": F_20, "6.7 nM": F_67}, F_0,
                    [0, 8, 16, 24, 32], "AtGPA1 Y166E GDP", ORD_F,
                    fits={"180 nM": F_180F, "60 nM": F_60F, "20 nM": F_20F, "6.7 nM": F_67F},
                    trace_opacity=0.6)
panel_g = spr_panel("G", T_NOISE_F, {"60 nM": G_60, "2.2 nM": G_22, "20 nM": G_20, "6.7 nM": G_67}, G_0,
                    [-6, -4, -2, 0, 2, 4, 6], "AtGPA1 Y166E GTPγS", ORD, leg_title_size=8.7)
panel_h = spr_panel("H", T_KIN_F, {"60 nM": H_60, "20 nM": H_20, "6.7 nM": H_67, "2.2 nM": H_22}, H_0,
                    [-4, 0, 4, 8, 12, 16], "AtGPA1 Y166E AlF4", ORD,
                    fits={"60 nM": H_60F, "20 nM": H_20F, "6.7 nM": H_67F, "2.2 nM": H_22F},
                    trace_opacity=0.6)

# ======================= PANELS I-K =======================
panel_i = kd_panel("I", I_CONC, I_RESP, I_FIT_C, I_FIT_R, [0, 20, 40, 60], [0, 4, 8, 12, 16, 20, 24, 28],
                   edge_title=True)
panel_j = kd_panel("J", J_CONC, J_RESP, J_FIT_C, J_FIT_R, [0, 60, 120, 180], [0, 4, 8, 12, 16, 20, 24, 28])
panel_k = kd_panel("K", K_CONC, K_RESP, K_FIT_C, K_FIT_R, [0, 20, 40, 60], [0, 2, 4, 6, 8, 10, 12, 14])

# ======================= TEXT =======================
texts = [
    txt("A", 0, 7.5, 13.5), txt("B", 317, 8, 14), txt("C", 0, 219.5, 15), txt("D", 0, 353.5, 15),
    txt("E", 0, 474, 15), txt("F", 317, 219.5, 15), txt("G", 317, 352, 15), txt("H", 317, 475, 15),
    txt("I", 0, 607, 15), txt("J", 187, 607, 15), txt("K", 403, 607, 15),
    txt("His-AtGPA1", 0, 20.5, 12.5), txt("Lane", 0, 35.5, 12.5),
    txt("IP: GST-AtRGS1", 0, 54, 11.4), txt("IB: His-AtGPA1", 0, 66, 11.4),
    txt("IP: GST-AtRGS1", 0, 90, 11.4), txt("IB: GST-AtRGS1", 0, 102, 11.4),
    txt("kDa", 285, 35, 7.5), txt("-55", 285, 47, 7.5), txt("-55", 285, 78, 7.5),
    txt("His-GPA1 wt ALF4", 82, 605, 12, align="center"),
    txt("His-GPA1 Y166E GDP", 312, 605, 12, align="center"),
    txt("His-GPA1 Y166E ALF4", 503, 605, 12, align="center"),
]

chart = alt.layer(
    panel_a, panel_b, panel_c, panel_d, panel_e, panel_f, panel_g, panel_h, panel_i, panel_j, panel_k, *texts
).resolve_scale(
    x="independent", y="independent", color="independent", shape="independent"
).resolve_axis(x="independent", y="independent").resolve_legend(
    color="independent", shape="independent"
).properties(
    width=W, height=H, padding=0, autosize=alt.AutoSizeParams(type="none")
).configure_view(strokeWidth=0).configure_axis(
    labelFont=FONT, titleFont=FONT, labelColor="black", titleColor="black"
).configure_legend(labelFont=FONT, titleFont=FONT).configure_text(font=FONT)

chart.save("out.html", embed_options={"renderer": "svg", "actions": False})
